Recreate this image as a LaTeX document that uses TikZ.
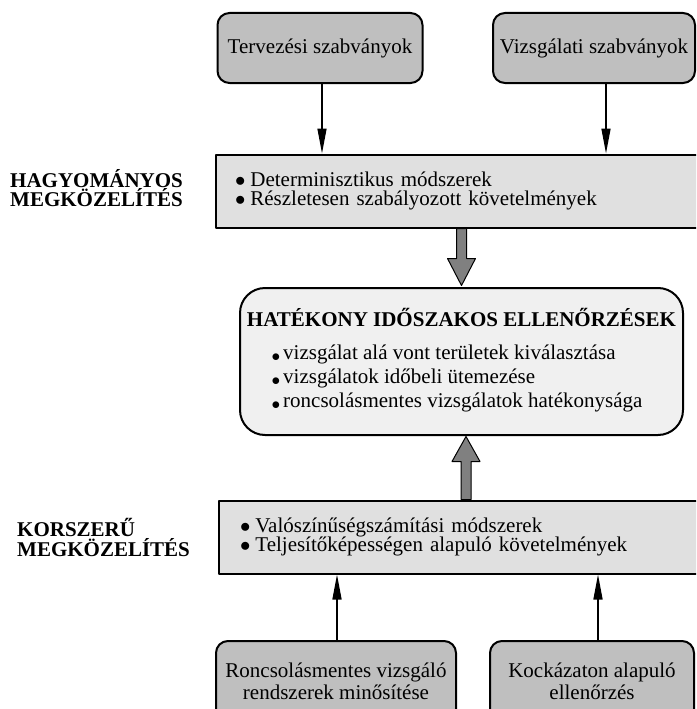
\documentclass[tikz,border=0pt]{standalone}
\usepackage{fontspec}
\setmainfont{Liberation Serif}
\usetikzlibrary{arrows.meta}
\definecolor{sotet}{gray}{0.75}
\definecolor{kozep}{gray}{0.88}
\definecolor{vilagos}{gray}{0.94}
\definecolor{nyilszin}{gray}{0.5}
\newcommand{\pont}{$\bullet$\hspace{5pt}}
\newcommand{\kispont}{\raisebox{-1.5pt}{\fontsize{16}{16}\selectfont$\bullet$}\hspace{3pt}}

\begin{document}
\begin{tikzpicture}[x=1pt,y=-1pt,font=\fontsize{21}{19.5}\selectfont,line join=round,
  >={Triangle[length=25pt,width=9pt]},
  szabvany/.style={draw,line width=2pt,fill=sotet,rounded corners=12pt,align=center,inner sep=2pt},
  savos/.style={draw,line width=2pt,fill=kozep,align=left,minimum height=73pt},
  nyil/.style={->,line width=1.5pt},
  vastag/.style={draw,line width=1pt,fill=nyilszin},
  felirat/.style={font=\fontsize{21}{19.5}\selectfont\bfseries,align=left,anchor=west,inner sep=0pt}]
\useasboundingbox (0,0) rectangle (696,709);
\clip (0,0) rectangle (696,709);

% felso sor
\node[szabvany,minimum width=205pt,minimum height=70pt] (tervezes) at (320,48) {Tervezési szabványok};
\node[szabvany,minimum width=202pt,minimum height=70pt] (vizsgalati) at (594,48) {Vizsgálati szabványok};

% hagyomanyos
\node[felirat] (hagylabel) at (10,188) {HAGYOMÁNYOS\\MEGKÖZELÍTÉS};
\node[savos,text width=466pt,inner xsep=19pt] (hagyomanyos) at (468,191)
  {\pont Determinisztikus módszerek\\ \pont Részletesen szabályozott követelmények};

% kozep
\node[draw,line width=2pt,fill=vilagos,rounded corners=25pt,minimum width=443pt,minimum height=147pt,
  align=center,font=\fontsize{21}{24}\selectfont] (hatekony) at (461.5,361.5)
  {\textbf{HATÉKONY IDŐSZAKOS ELLENŐRZÉSEK}\\[9pt]
   \hspace*{-9pt}\begin{tabular}[t]{@{}l@{}}\kispont vizsgálat alá vont területek kiválasztása\\
   \kispont vizsgálatok időbeli ütemezése\\
   \kispont roncsolásmentes vizsgálatok hatékonysága\end{tabular}};

% korszeru
\node[felirat] (korszlabel) at (17,537.5) {KORSZERŰ\\MEGKÖZELÍTÉS};
\node[savos,text width=459pt,inner xsep=21pt] (korszeru) at (469.5,537)
  {\pont Valószínűségszámítási módszerek\\ \pont Teljesítőképességen alapuló követelmények};

% also sor
\node[szabvany,minimum width=240pt,minimum height=80pt,font=\fontsize{21}{22}\selectfont] (roncsolas) at (336,681)
  {Roncsolásmentes vizsgáló\\rendszerek minősítése};
\node[szabvany,minimum width=204pt,minimum height=80pt,font=\fontsize{21}{22}\selectfont] (kockazat) at (592,681)
  {Kockázaton alapuló\\ellenőrzés};

% nyilak
\draw[nyil] ([xshift=2pt]tervezes.south) -- ([xshift=2pt]tervezes.south |- hagyomanyos.north);
\draw[nyil] ([xshift=12pt]vizsgalati.south) -- ([xshift=12pt]vizsgalati.south |- hagyomanyos.north);
\draw[nyil] ([xshift=1pt]roncsolas.north) -- ([xshift=1pt]roncsolas.north |- korszeru.south);
\draw[nyil] ([xshift=6pt]kockazat.north) -- ([xshift=6pt]kockazat.north |- korszeru.south);

\coordinate (le) at (hatekony.north |- hagyomanyos.south);
\draw[vastag] ([shift={(-5,0)}]le) -- ([shift={(-5,30)}]le) -- ([shift={(-14,30)}]le) -- ([shift={(0,57)}]le)
  -- ([shift={(14,30)}]le) -- ([shift={(5,30)}]le) -- ([shift={(5,0)}]le) -- cycle;
\coordinate (fel) at ([xshift=4.5pt]hatekony.south |- korszeru.north);
\draw[vastag] ([shift={(-5,0)}]fel) -- ([shift={(-5,-38)}]fel) -- ([shift={(-14,-38)}]fel) -- ([shift={(0,-63)}]fel)
  -- ([shift={(14,-38)}]fel) -- ([shift={(5,-38)}]fel) -- ([shift={(5,0)}]fel) -- cycle;
\end{tikzpicture}
\end{document}
